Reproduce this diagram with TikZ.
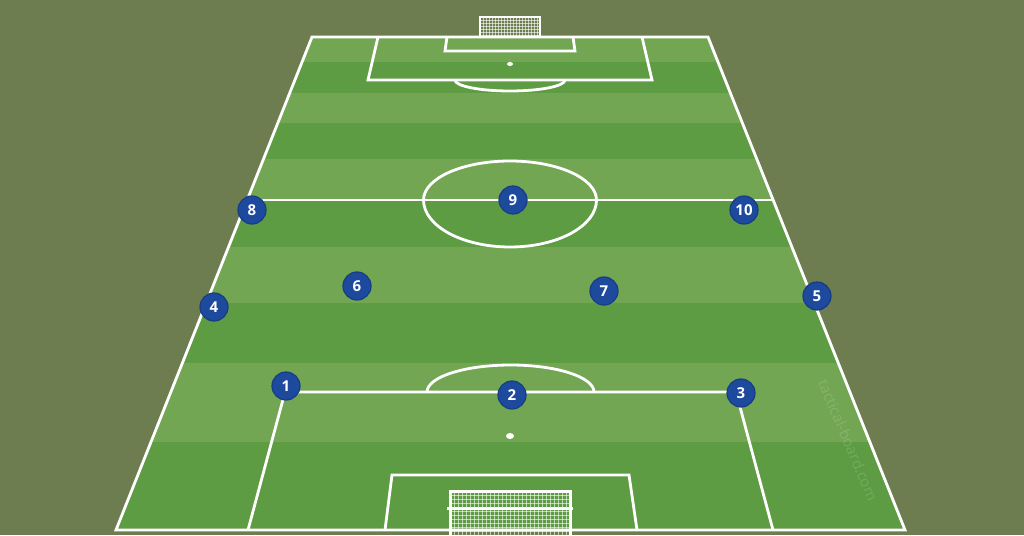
\documentclass[tikz,border=0pt]{standalone}
\usepackage{fontspec}
\usetikzlibrary{calc}
\newfontfamily\pitchfont{Open Sans}
\definecolor{bgolive}{HTML}{6E7D50}
\definecolor{grasslight}{HTML}{72A653}
\definecolor{grassdark}{HTML}{5E9C43}
\definecolor{teamblue}{HTML}{1E4A9E}
\definecolor{teamrim}{HTML}{173C85}
\tikzset{
  pitchline/.style={white, line width=2.8pt},
  netline/.style={white, opacity=0.6, line width=0.6pt},
  player/.style={circle, fill=teamblue, draw=teamrim, line width=1.2pt,
    minimum size=28pt, inner sep=0pt, text=white,
    font=\pitchfont\bfseries\fontsize{15}{15}\selectfont}
}
\begin{document}
\begin{tikzpicture}[x=1pt,y=-1pt]
  % Nền
  \fill[bgolive] (0,0) rectangle (1024,535);
  \useasboundingbox (0,0) rectangle (1024,535);
  % Các góc sân
  \coordinate (TL) at (312,37);
  \coordinate (TR) at (708,37);
  \coordinate (BR) at (905,530);
  \coordinate (BL) at (116,530);
  % Sọc cỏ
  \fill[grassdark] (TL) -- (TR) -- (BR) -- (BL) -- cycle;
  \begin{scope}
    \clip (TL) -- (TR) -- (BR) -- (BL) -- cycle;
    \foreach \ya/\yb in {37/62, 93/123, 159/200, 247/303, 363/442}
      \fill[grasslight] (0,\ya) rectangle (1024,\yb);
  \end{scope}
  % Khung thành trên
  \foreach \x in {483,486,...,537} \draw[netline] (\x,17) -- (\x,37);
  \foreach \y in {20,23,...,35} \draw[netline] (480,\y) -- (540,\y);
  \draw[white, line width=2pt] (480,37) -- (480,17) -- (540,17) -- (540,37);
  % Đường biên
  \draw[pitchline] (TL) -- (TR) -- (BR) -- (BL) -- cycle;
  % Đường giữa sân và vòng tròn giữa
  \coordinate (ML) at ($(TL)!0.3306!(BL)$);
  \coordinate (MR) at ($(TR)!0.3306!(BR)$);
  \draw[pitchline] (ML) -- (MR);
  \draw[pitchline] (423.5,200) arc[start angle=180, end angle=360, x radius=86.5, y radius=39];
  \draw[pitchline] (596.5,200) arc[start angle=0, end angle=180, x radius=86.5, y radius=47];
  % Vòng cấm trên
  \draw[pitchline] (378,37) -- (368,80) -- (652,80) -- (642,37);
  \draw[pitchline] (447,37) -- (445,51) -- (575,51) -- (573,37);
  \draw[pitchline] (455,80) arc[start angle=180, end angle=0, x radius=55, y radius=11];
  \fill[white] (510,64) ellipse (3 and 2);
  % Vòng cấm dưới
  \draw[pitchline] (248,530) -- (285,392) -- (736,392) -- (773,530);
  \draw[pitchline] (385,530) -- (392,475) -- (629,475) -- (637,530);
  \draw[pitchline] (427,392) arc[start angle=180, end angle=360, x radius=83.5, y radius=27];
  \fill[white] (510,436) ellipse (4 and 3);
  % Khung thành dưới
  \foreach \x in {454,458,...,566} \draw[netline] (\x,491) -- (\x,535);
  \foreach \y in {495,499,...,535} \draw[netline] (450,\y) -- (570,\y);
  \draw[white, line width=3pt] (450,536) -- (450,491) -- (570,491) -- (570,536);
  \draw[white, line width=3pt] (447,508) -- (573,508);
  % Chữ mờ
  \node[rotate=-67, text=white, text opacity=0.14,
    font=\pitchfont\fontsize{15}{15}\selectfont] (mark) at (848,440) {tactical-board.com};
  % Cầu thủ
  \node[player] (p1) at (286,386) {1};
  \node[player] (p2) at (512,395) {2};
  \node[player] (p3) at (741,393) {3};
  \node[player] (p4) at (214,307) {4};
  \node[player] (p5) at (817,296) {5};
  \node[player] (p6) at (357,286) {6};
  \node[player] (p7) at (604,291) {7};
  \node[player] (p8) at (252,210) {8};
  \node[player] (p9) at (513,200) {9};
  \node[player] (p10) at (744,210) {10};
\end{tikzpicture}
\end{document}
